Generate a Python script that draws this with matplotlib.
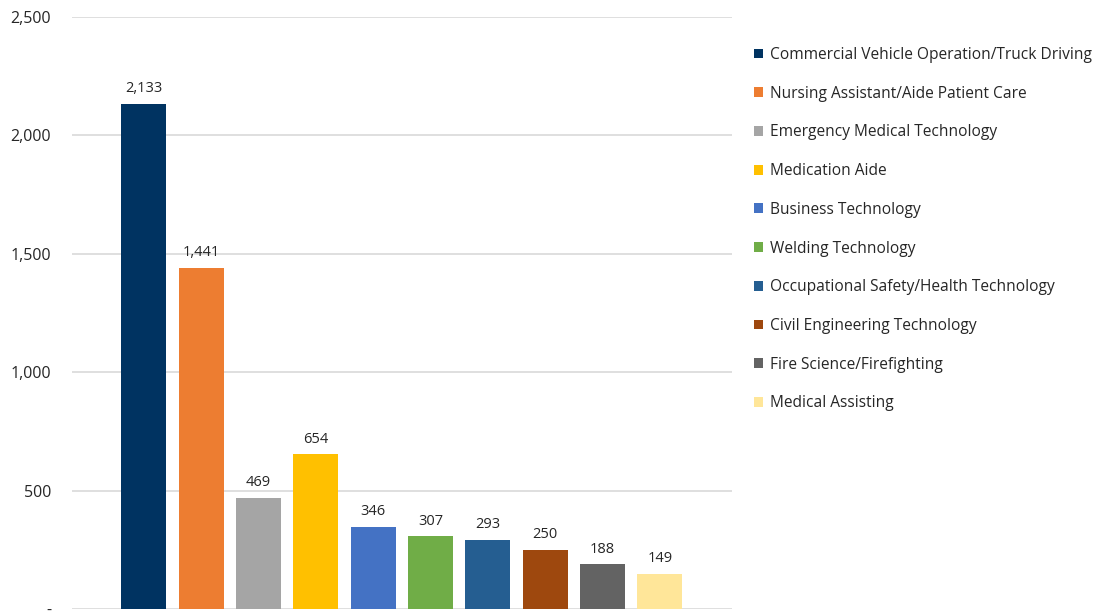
import numpy as np
import matplotlib
matplotlib.use('Agg')
import matplotlib.pyplot as plt
from matplotlib.ticker import FuncFormatter

programs = ["Commercial Vehicle Operation/Truck Driving",
            "Nursing Assistant/Aide Patient Care",
            "Emergency Medical Technology",
            "Medication Aide",
            "Business Technology",
            "Welding Technology",
            "Occupational Safety/Health Technology",
            "Civil Engineering Technology",
            "Fire Science/Firefighting",
            "Medical Assisting"]
counts = [2133, 1441, 469, 654, 346, 307, 293, 250, 188, 149]
colors = ["#003361", "#ED7D31", "#A5A5A5", "#FFC000", "#4472C4",
          "#70AD47", "#255E91", "#9E480E", "#636363", "#FFE699"]

plt.rcParams['font.family'] = ['Open Sans', 'DejaVu Sans']

fig = plt.figure(figsize=(10.94, 6.12), dpi=100)
ax = fig.add_axes([72/1094, 3/612, 660/1094, 592/612])

x = np.arange(len(counts))
bars = ax.bar(x, counts, width=0.785, color=colors, zorder=3)
for i in range(len(counts)):
    bars[i].set_label(programs[i])
    ax.text(x[i], counts[i] + 32, f"{counts[i]:,}", ha="center", va="bottom",
            fontsize=10.5, color="#262626")

ax.set_ylim(0, 2500)
ax.set_xlim(-1.25, 10.26)
ax.set_yticks(np.arange(0, 2501, 500))
ax.yaxis.set_major_formatter(FuncFormatter(lambda v, p: "-" if v == 0 else f"{int(v):,}"))
ax.yaxis.grid(True, color="#D9D9D9", linewidth=1.2, zorder=0)
ax.set_xticks([])
ax.tick_params(axis="y", length=0, pad=15, labelsize=11.5, labelcolor="#262626")
for s in ax.spines.values():
    s.set_visible(False)

fig.legend(handles=list(bars), loc="upper left", bbox_to_anchor=(740/1094, 1 - 33/612),
           frameon=False, fontsize=11.2, handlelength=0.6, handleheight=0.6,
           handletextpad=0.4, labelspacing=1.46, labelcolor="#262626")

fig.savefig("out.png", dpi=100)
